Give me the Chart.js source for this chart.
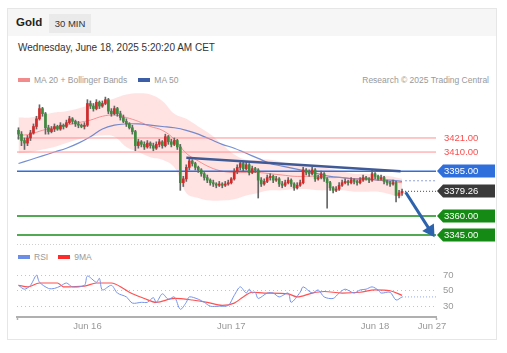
<!DOCTYPE html>
<html>
<head>
<meta charset="utf-8">
<script src="https://cdn.jsdelivr.net/npm/chart.js@4.4.0/dist/chart.umd.min.js"></script>
<style>
    body { margin: 0; background: #fff; font-family: 'Liberation Sans', Arial, sans-serif; }
    #wrap { position: relative; width: 507px; height: 353px; overflow: hidden; }
    .card { position: absolute; left: 7px; top: 8px; width: 488px; height: 330px; border: 1px solid #e6e6e6; }
    .head { position: absolute; left: 8px; top: 9px; width: 488px; height: 27px; background: #f6f6f6; }
    .title { position: absolute; left: 16px; top: 16px; font-size: 11.5px; font-weight: bold; color: #222; line-height: 13px; }
    .badge { position: absolute; left: 49px; top: 14px; width: 42px; height: 19px; line-height: 19px; background: #eaeaea; font-size: 9.5px; color: #333; text-align: center; }
    .date { position: absolute; left: 18px; top: 42px; font-size: 10px; color: #333; line-height: 12px; }
    .legend { position: absolute; font-size: 8.5px; color: #999; line-height: 10px; white-space: nowrap; }
    .sw { display: inline-block; width: 12px; height: 4px; vertical-align: middle; margin: 0 4px 1px 0; }
    canvas { position: absolute; left: 0; }
</style>
</head>
<body>
<div id="wrap">
    <div class="card"></div>
    <div class="head"></div>
    <div class="title">Gold</div>
    <div class="badge">30 MIN</div>
    <div class="date">Wednesday, June 18, 2025 5:20:20 AM CET</div>
    <div class="legend" style="left:18px; top:75px;"><span class="sw" style="background:#f28b8b"></span>MA 20 + Bollinger Bands<span class="sw" style="background:#3b5ea6; margin-left:11px"></span>MA 50</div>
    <div class="legend" style="right:18px; top:75px;">Research © 2025 Trading Central</div>
    <div class="legend" style="left:18px; top:252px;"><span class="sw" style="background:#6d8ee6"></span>RSI<span class="sw" style="background:#ff2a2a; margin-left:10px"></span>9MA</div>
    <canvas id="priceChart" width="507" height="160" style="top:88px"></canvas>
    <canvas id="rsiChart" width="507" height="79" style="top:258px"></canvas>
</div>
<script>
// 30 min candles, index 0 = first bar on the left
const opens = [3427,3424,3419,3417,3421,3425,3430,3436,3444,3440,
    3429,3426,3428,3430,3428,3431,3430,3433,3436,3434,
    3432,3431,3430,3431,3448,3446,3444,3449,3446,3448,
    3451,3442,3440,3444,3440,3437,3434,3432,3429,3426,
    3415,3418,3416,3414,3417,3415,3413,3416,3418,3415,
    3422,3418,3416,3419,3414,3386,3389,3398,3403,3401,
    3398,3396,3393,3390,3388,3386,3385,3384,3385,3384,
    3385,3386,3389,3395,3398,3401,3397,3400,3394,3397,
    3396,3388,3385,3387,3390,3391,3388,3389,3385,3384,
    3386,3388,3385,3382,3384,3386,3396,3394,3393,3396,
    3389,3390,3393,3389,3386,3382,3380,3381,3384,3386,
    3387,3386,3388,3387,3386,3388,3390,3389,3388,3393,
    3391,3389,3390,3387,3386,3385,3386,3376,3378];
const closes = [3424,3419,3417,3421,3425,3430,3436,3444,3440,3429,
    3426,3428,3430,3428,3431,3430,3433,3436,3434,3432,
    3431,3430,3431,3448,3446,3444,3449,3446,3448,3451,
    3442,3440,3444,3440,3437,3434,3432,3429,3426,3415,
    3418,3416,3414,3417,3415,3413,3416,3418,3415,3422,
    3418,3416,3419,3414,3386,3389,3398,3403,3401,3398,
    3396,3393,3390,3388,3386,3385,3384,3385,3384,3385,
    3386,3389,3395,3398,3401,3397,3400,3394,3397,3396,
    3388,3385,3387,3390,3391,3388,3389,3385,3384,3386,
    3388,3385,3382,3384,3386,3396,3394,3393,3396,3389,
    3390,3393,3389,3386,3382,3380,3381,3384,3386,3387,
    3386,3388,3387,3386,3388,3390,3389,3388,3393,3391,
    3389,3390,3387,3386,3385,3386,3376,3378,3379.26];
const highs = [3429,3426,3421,3423,3427,3432,3438,3447,3445,3441,
    3431,3430,3432,3431,3433,3432,3435,3438,3437,3435,
    3434,3432,3433,3451,3450,3448,3451,3450,3450,3453,
    3452,3444,3446,3445,3442,3439,3436,3433,3431,3427,
    3420,3419,3418,3419,3418,3417,3418,3420,3419,3424,
    3423,3420,3421,3420,3416,3391,3400,3405,3404,3402,
    3399,3397,3394,3392,3389,3388,3386,3387,3386,3387,
    3388,3390,3397,3400,3403,3402,3402,3401,3399,3398,
    3397,3390,3389,3392,3393,3392,3391,3390,3387,3388,
    3390,3389,3386,3386,3388,3398,3397,3396,3398,3397,
    3392,3395,3394,3390,3387,3383,3383,3386,3388,3389,
    3388,3390,3389,3388,3390,3392,3391,3390,3396,3394,
    3392,3392,3391,3388,3387,3388,3387,3380,3381];
const lows = [3420,3415,3412,3415,3419,3424,3428,3435,3438,3424,
    3424,3425,3426,3427,3427,3428,3429,3432,3432,3430,
    3429,3429,3428,3430,3444,3442,3443,3444,3445,3447,
    3440,3438,3439,3438,3435,3433,3430,3428,3424,3411,
    3413,3414,3412,3413,3413,3411,3412,3414,3413,3414,
    3416,3414,3415,3412,3380,3383,3387,3396,3399,3396,
    3394,3391,3388,3386,3384,3383,3382,3383,3382,3383,
    3384,3385,3388,3393,3396,3395,3396,3392,3393,3394,
    3374,3383,3384,3386,3388,3386,3387,3383,3382,3383,
    3385,3383,3380,3381,3383,3385,3392,3391,3392,3387,
    3388,3389,3387,3366,3380,3378,3379,3380,3383,3385,
    3384,3385,3385,3384,3385,3387,3388,3386,3387,3389,
    3388,3388,3385,3384,3383,3384,3371,3374,3376];

// moving averages and bands, read every 4th bar
const bandAt = [0,4,8,12,16,20,24,28,32,36,40,44,48,52,56,60,64,68,72,76,80,84,88,92,96,100,104,108,112,116,120,124,128];
const ma20 = [3423,3424,3427,3429,3431,3433,3435,3438,3439,3437,3434,3430,3427,3420,3409,3403,3398,3395,3394,3394,3394,3393,3392,3391,3391,3391,3390,3390,3389,3389,3388,3387,3386];
const bbUpper = [3437,3437,3439,3441,3442,3444,3447,3449,3452,3455,3456,3455,3450,3440,3436,3430,3424,3416,3408,3404,3404,3404,3402,3400,3399,3398,3397,3395,3393,3393,3392,3391,3389];
const bbLower = [3409,3410,3412,3414,3417,3420,3422,3423,3422,3414,3410,3406,3404,3398,3378,3374,3372,3372,3373,3376,3378,3380,3380,3381,3381,3380,3380,3380,3379,3379,3379,3377,3374];
const ma50 = [3401,3404,3407,3410,3413,3417,3422,3428,3431,3432,3432,3431,3430,3429,3427,3424,3420,3416,3413,3409,3405,3401,3399,3397,3395,3393,3391,3390,3389,3389,3388,3388,3387];

// support / resistance levels and tags on the right
const levels = [3421, 3410, 3395, 3360, 3345];
const tagValues = [3421, 3410, 3395, 3379.26, 3360, 3345];
const ma50Next = 3387.5;
const trendFrom = [56, 3405.5];
const trendTo = [127.5, 3395];
const arrowFrom = [129.2, 3378.5];
const arrowTo = [137.4, 3348.5];

// RSI panel
const rsiAt = [0,2,4,6,7,10,12,14,16,18,22,23,26,27,28,31,33,36,38,41,43,45,46,48,50,52,54,56,57,60,62,64,67,70,72,74,76,77,78,79,80,83,85,87,90,91,94,95,98,100,102,105,107,109,112,114,116,118,120,121,124,126,128];
const rsiVal = [57,52,57,70,61,53,53,56,60,55,57,69,61,66,51,57,47,42,34,35,35,41,35,46,39,42,26,35,42,39,35,30,30,31,44,55,47,52,47,48,40,47,47,42,47,35,48,55,47,51,42,40,47,52,47,51,52,55,51,47,48,38,42];
const ma9At = [0,3,7,13,15,22,26,31,35,37,42,46,52,58,63,68,72,75,78,82,90,93,98,102,108,114,119,124,128];
const ma9Val = [57,55,60,60,55,56,60,60,53,48,40,35,40,38,35,31,34,42,48,47,46,42,47,49,47,48,51,50,44];
const rsiTicks = [30, 50, 70];

// x axis
const dayTickAt = [23, 71, 119, 138];
const dayTickLabels = ['Jun 16', 'Jun 17', 'Jun 18', 'Jun 27'];

const X_MIN = -0.5;
const X_MAX = 139.33;
const FONT = "'Liberation Sans', Arial, sans-serif";
Chart.defaults.font.family = FONT;

const tagStyles = [
    { color: '#ff4c4c', box: false },
    { color: '#ff4c4c', box: false },
    { color: '#2f6fdc', box: true },
    { color: '#3a3a3a', box: true },
    { color: '#158a15', box: true },
    { color: '#158a15', box: true },
];
const levelStyles = [
    { color: '#ff8f8f', width: 1 },
    { color: '#ff8f8f', width: 1 },
    { color: '#2f6fdc', width: 1.5 },
    { color: '#1a8c1a', width: 1.5 },
    { color: '#1a8c1a', width: 1.5 },
];

const pts = (xs, ys) => xs.map((x, i) => ({ x: x, y: ys[i] }));
const seg = (a, b) => [{ x: a[0], y: a[1] }, { x: b[0], y: b[1] }];

const levelTags = {
    id: 'levelTags',
    afterDatasetsDraw(chart) {
        const { ctx, chartArea, scales: { y } } = chart;
        ctx.save();
        ctx.strokeStyle = '#cfcfcf';
        ctx.lineWidth = 1;
        ctx.setLineDash([1, 2]);
        ctx.beginPath();
        ctx.moveTo(chartArea.left, chartArea.bottom + 0.5);
        ctx.lineTo(chartArea.right, chartArea.bottom + 0.5);
        ctx.stroke();
        ctx.setLineDash([]);
        ctx.font = '9.5px ' + FONT;
        ctx.textBaseline = 'middle';
        tagValues.forEach((v, i) => {
            const yy = Math.round(y.getPixelForValue(v));
            const x0 = chartArea.right + 1;
            const st = tagStyles[i];
            if (st.box) {
                ctx.fillStyle = st.color;
                ctx.beginPath();
                ctx.moveTo(x0, yy);
                ctx.lineTo(x0 + 6, yy - 6.5);
                ctx.lineTo(x0 + 58, yy - 6.5);
                ctx.lineTo(x0 + 58, yy + 6.5);
                ctx.lineTo(x0 + 6, yy + 6.5);
                ctx.closePath();
                ctx.fill();
                ctx.fillStyle = '#fff';
            } else {
                ctx.fillStyle = st.color;
            }
            ctx.fillText(v.toFixed(2), x0 + 7, yy + 0.5);
        });
        ctx.restore();
    }
};

const priceChart = () => {
    const ctx = document.getElementById('priceChart').getContext('2d');
    const bars = closes.map((c, i) => i);
    const up = closes.map((c, i) => c >= opens[i]);

    const line = (data, color, width, extra) => Object.assign({
        type: 'line', data: data, borderColor: color, borderWidth: width,
        pointRadius: 0, fill: false, tension: 0
    }, extra || {});

    const datasets = [
        line(seg(arrowFrom, arrowTo), '#2d62ad', 3, {
            pointRadius: [0, 5], pointStyle: 'triangle', rotation: 147,
            pointBackgroundColor: '#2d62ad', pointBorderColor: '#2d62ad'
        }),
        line(seg(trendFrom, trendTo), '#3f5a96', 2.5),
        {
            type: 'bar', grouped: false, barThickness: 2,
            data: bars.map(i => ({ x: i, y: [opens[i], closes[i]] })),
            backgroundColor: up.map(u => u ? '#d42a2a' : '#3d8b3d'),
        },
        {
            type: 'bar', grouped: false, barThickness: 1,
            data: bars.map(i => ({ x: i, y: [lows[i], highs[i]] })),
            backgroundColor: '#666',
        },
        line(seg([129, closes[closes.length - 1]], [X_MAX, closes[closes.length - 1]]), '#444', 1, { borderDash: [1, 2] }),
        line(seg([129, ma50Next], [X_MAX, ma50Next]), '#8fa3d6', 1, { borderDash: [2, 2] }),
        ...levels.map((v, i) => line(seg([X_MIN, v], [X_MAX, v]), levelStyles[i].color, levelStyles[i].width)),
        line(pts(bandAt, ma20), 'rgba(240,110,110,0.7)', 1, { tension: 0.4 }),
        line(pts(bandAt, ma50), 'rgba(70,105,195,0.75)', 1.2, { tension: 0.4 }),
        line(pts(bandAt, bbUpper), 'rgba(0,0,0,0)', 0, { tension: 0.4, fill: '+1', backgroundColor: 'rgba(255,90,90,0.17)' }),
        line(pts(bandAt, bbLower), 'rgba(0,0,0,0)', 0, { tension: 0.4 }),
    ];

    new Chart(ctx, {
        type: 'bar',
        data: { datasets: datasets },
        options: {
            responsive: false,
            animation: false,
            layout: { autoPadding: false, padding: { left: 17, right: 71, top: 4, bottom: 4 } },
            plugins: { legend: { display: false }, tooltip: { enabled: false } },
            scales: {
                x: { type: 'linear', display: false, offset: false, min: X_MIN, max: X_MAX },
                y: { display: false, min: 3338, max: 3457 }
            }
        },
        plugins: [levelTags]
    });
}

const rsiChart = () => {
    const ctx = document.getElementById('rsiChart').getContext('2d');
    const last = rsiVal[rsiVal.length - 1];
    const endTicks = [X_MIN, ...dayTickAt, X_MAX];

    new Chart(ctx, {
        type: 'line',
        data: {
            datasets: [
                {
                    data: seg([128, last], [X_MAX, last]), borderColor: '#8ea6ee',
                    borderWidth: 1, borderDash: [1, 2], pointRadius: 0
                },
                {
                    data: pts(rsiAt, rsiVal), borderColor: '#7593ea', borderWidth: 1,
                    pointRadius: 0, tension: 0.3
                },
                {
                    data: pts(ma9At, ma9Val), borderColor: 'rgba(255,50,50,0.85)', borderWidth: 1.2,
                    pointRadius: 0, cubicInterpolationMode: 'monotone'
                },
            ]
        },
        options: {
            responsive: false,
            animation: false,
            layout: { autoPadding: false, padding: { left: 17, right: 0, top: 8, bottom: 0 } },
            plugins: { legend: { display: false }, tooltip: { enabled: false } },
            scales: {
                x: {
                    type: 'linear', min: X_MIN, max: X_MAX,
                    afterBuildTicks: (scale) => { scale.ticks = endTicks.map(v => ({ value: v })); },
                    afterFit: (scale) => { scale.height = 20; scale.paddingLeft = 0; scale.paddingRight = 0; },
                    grid: {
                        drawOnChartArea: false, tickLength: 3, tickWidth: 1.5,
                        color: (c) => (c.index === 0 || c.index === endTicks.length - 1) ? '#b0b0b0' : 'rgba(0,0,0,0)'
                    },
                    border: { color: '#b0b0b0', width: 2 },
                    ticks: {
                        autoSkip: false, maxRotation: 0, padding: 1, color: '#999', font: { size: 9.5 },
                        callback: (v) => {
                            const k = dayTickAt.indexOf(v);
                            return k < 0 ? '' : dayTickLabels[k];
                        }
                    }
                },
                y: {
                    position: 'right', min: 16, max: 82,
                    afterBuildTicks: (scale) => { scale.ticks = rsiTicks.map(v => ({ value: v })); },
                    afterFit: (scale) => { scale.width = 71; scale.paddingTop = 0; scale.paddingBottom = 0; },
                    grid: { color: '#c4c4c4', drawTicks: false },
                    border: { display: false, dash: [1, 3] },
                    ticks: { padding: 7, color: '#999', font: { size: 9.5 } }
                }
            }
        }
    });
}

priceChart();
rsiChart();
</script>
</body>
</html>
